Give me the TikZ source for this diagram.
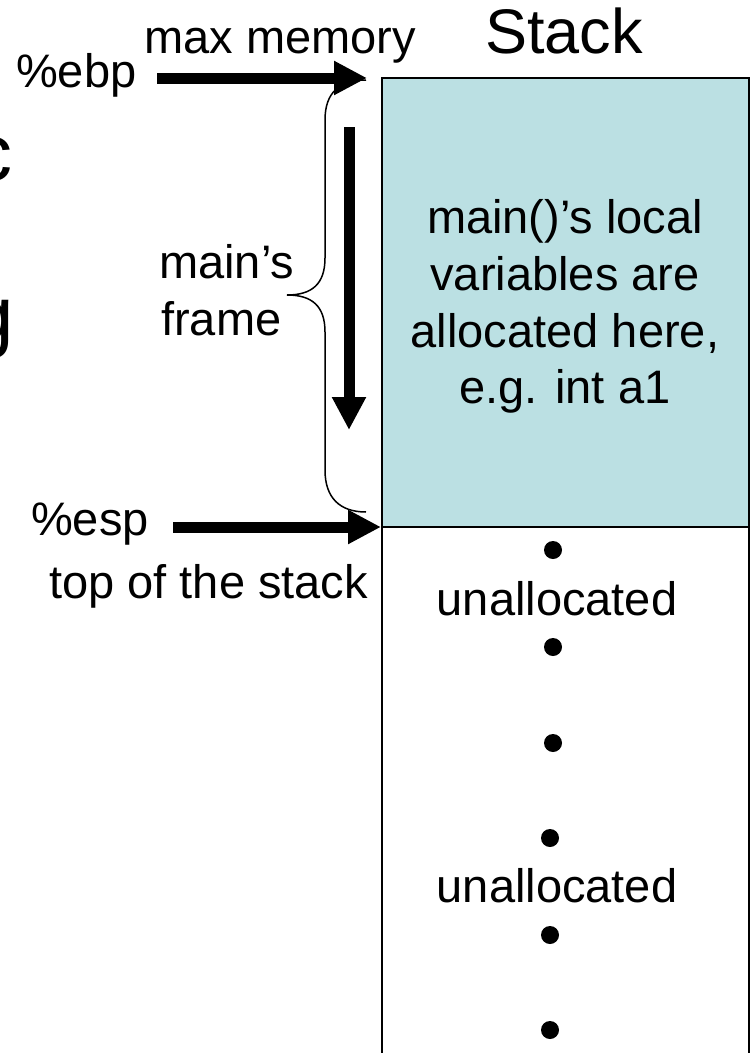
\documentclass[tikz,border=0pt]{standalone}
\usepackage{fontspec}
\setmainfont{Liberation Sans}
\usetikzlibrary{arrows.meta}
\definecolor{stackfill}{RGB}{187,224,227}
\tikzset{
  lbl/.style={inner sep=0pt, font=\fontsize{47bp}{57bp}\selectfont},
  cutletter/.style={inner sep=0pt, font=\fontsize{80bp}{90bp}\selectfont},
  bigarrow/.style={line width=11bp, -{Triangle[length=33bp,width=32bp]}},
  stackdot/.style={circle, fill=black, inner sep=0pt, minimum size=18bp},
  thinline/.style={draw=black, line width=1.5bp}
}
\begin{document}
\begin{tikzpicture}[x=1bp,y=-1bp]
\useasboundingbox (0,0) rectangle (753,1053);
\begin{scope}
\clip (0,0) rectangle (753,1053);

% letters of a heading cut off at the left edge
\node[cutletter, anchor=base east] (cutc) at (13,180) {c};
\node[cutletter, anchor=base east] (cutg) at (14,342) {g};

% the stack: allocated frame (filled) above the unallocated region
\fill[stackfill] (382,78) rectangle (749,527);
\draw[thinline] (382,1080) -- (382,78) -- (749,78) -- (749,1080);
\draw[thinline] (382,527) -- (749,527);

\node[inner sep=0pt, font=\fontsize{63bp}{70bp}\selectfont, anchor=base] (title) at (564,53) {Stack};

% contents of main's frame
\node[lbl, anchor=base] (l1) at (565,233) {main()’s local};
\node[lbl, anchor=base] (l2) at (565,290) {variables are};
\node[lbl, anchor=base] (l3) at (565,347) {allocated here,};
\node[lbl, anchor=base] (l4) at (565,403) {e.g. int a1};

% unallocated region
\node[stackdot] (d1) at (553,550) {};
\node[lbl, anchor=base] (u1) at (557,615) {unallocated};
\node[stackdot] (d2) at (553,647) {};
\node[stackdot] (d3) at (553,743) {};
\node[stackdot] (d4) at (550,838) {};
\node[lbl, anchor=base] (u2) at (557,902) {unallocated};
\node[stackdot] (d5) at (550,935) {};
\node[stackdot] (d6) at (550,1030) {};

% brace spanning main's frame
\coordinate (braceTop) at (366,80);
\coordinate (braceTip) at (287,295);
\coordinate (braceBot) at (366,512);
\draw[thinline] (braceTop) .. controls (340,80) and (325,92) .. (325,120)
  -- (325,258) .. controls (325,284) and (312,295) .. (braceTip)
  .. controls (312,295) and (325,306) .. (325,332)
  -- (325,470) .. controls (325,498) and (340,512) .. (braceBot);

\node[lbl, anchor=base west] (mains) at (159,278) {main’s};
\node[lbl, anchor=base west] (frame) at (161,335) {frame};

% register labels and pointers
\node[lbl, anchor=base west] (ebp) at (16,87) {\%ebp};
\node[lbl, anchor=base west] (maxmem) at (144,53) {max memory};
\coordinate (ebpStart) at (157,78);
\coordinate (ebpTip) at (367,78);
\draw[bigarrow] (ebpStart) -- (ebpTip);

\node[lbl, anchor=base west] (esp) at (31,535) {\%esp};
\node[lbl, anchor=base west] (tos) at (49,598) {top of the stack};
\coordinate (espStart) at (173,527);
\coordinate (espTip) at (381,527);
\draw[bigarrow] (espStart) -- (espTip);

% growth direction
\coordinate (growStart) at (349,127);
\coordinate (growEnd) at (349,430);
\draw[bigarrow] (growStart) -- (growEnd);
\end{scope}
\end{tikzpicture}
\end{document}
